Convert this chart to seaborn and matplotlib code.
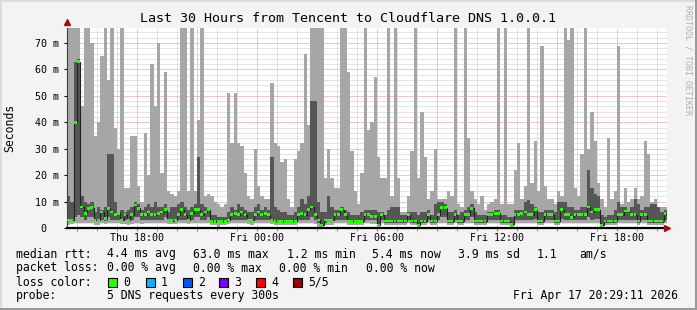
import numpy as np
import pandas as pd
import matplotlib
matplotlib.use("Agg")
import matplotlib.pyplot as plt
import matplotlib.dates as mdates
from matplotlib.ticker import MultipleLocator, FuncFormatter
from matplotlib.patches import Rectangle
import seaborn as sns

# ---------------- data (10-minute bins, ms) ----------------
start_time = "2026-04-16 14:29:11"
bin_minutes = 10

max_ms = [100,100,100,100,46,100,100,70,35,40,65,100,56,100,38,30,100,15,15,35,35,16,10,36,20,62,46,70,21,59,
          14,13,12,14,100,100,14,100,14,41,100,12,13,12,10,9,8,9,51,32,51,32,31,21,12,11,30,16,12,11,
          11,55,32,31,25,26,11,8,26,29,32,66,39,100,100,100,100,19,30,19,15,15,100,100,59,29,14,9,21,100,
          37,40,57,27,19,19,100,12,100,19,6,6,12,29,100,19,44,27,11,14,30,11,11,11,14,12,100,9,8,100,
          34,14,11,9,12,7,9,10,11,100,9,100,9,9,22,32,11,16,100,17,33,14,69,16,11,11,9,14,12,100,
          71,100,15,12,28,100,30,44,33,17,11,8,34,11,14,69,9,15,10,11,15,11,12,33,28,10,11,8,8,8]

dark_hi_ms = [12,10,63,64,12,10,9,10,6,8,7,8,28,28,10,6,7,6,7,8,10,9,7,8,9,8,10,8,8,9,
              6,8,8,9,10,8,7,8,9,27,9,8,7,5,5,4,4,4,6,8,7,9,8,7,6,6,8,9,7,8,
              7,27,8,7,6,6,5,5,6,8,11,9,12,48,48,10,6,6,12,8,7,7,8,7,6,5,5,5,6,7,
              7,7,7,6,6,5,7,8,8,8,5,5,6,6,6,5,6,6,7,5,9,10,10,9,6,6,7,5,6,7,
              8,9,6,5,5,5,6,6,7,7,5,5,4,4,7,7,7,10,10.5,9,8,6,6,7,7,7,6,10,10,10,
              8,8,7,7,8,8,22,15,13,12,5,4,5,5,7,10,8,8,7,8,11,9,7,8,8,9,9,8,6,7]

median_ms = [3,3,40,63,8,5.5,7.5,7.7,3,3,6,3.5,7.5,6,5,5.5,3,5,3,5,8.7,7.5,5,5,6,5,5,5.5,6,7,
             2.8,2.8,3,5,7,5,3,5.5,7,7,5,6,7,2.5,2.5,2.5,2.5,2.5,3,5,5.5,5,6,5,3,3,5,6,5,5.5,
             5,3,2.5,2.5,2.5,2.5,2.5,2.5,2.5,5,5.5,5,7,8,5,3,1.2,3,3,3,5,5,7,5,2.5,2.5,2.5,2.5,2.5,5,
             5,4.3,4.3,1.2,5,2.7,2.7,2.7,2.7,2.7,2.7,2.7,5,2.7,2.7,1.2,2.7,2.7,5,2.7,2.7,5,7.7,7.7,2.7,2.7,5,2.7,2.7,5,
             5,7.5,2.7,2.7,2.7,2.7,5,5,5.5,5.5,2.7,2.7,2.7,1.5,5,5,5.5,6,5,5,7,2.7,2.7,5,5,5,2.7,2.7,7,5,
             5,4,5,5,5,5,8,6,7,7,1.2,2.7,2.7,2.7,2.7,5,5,6.5,6.5,5,5,2.7,5,5,2.7,2.7,2.7,2.7,2.7,5.4]

dark_lo_ms = [2.5,2.5,4,5,4,3,4,4,2.5,2.5,3,2.5,4,3,3,3,2.5,3,2.5,3,4,4,3,3,3,3,3,3,3,4,
              2.5,2.5,2.5,3,3,3,2.5,3,4,4,3,3,4,2,2,2,2,2,2.5,3,3,3,3,3,2.5,2.5,3,3,3,3,
              3,2.5,2,2,2,2,2,2,2,3,3,3,3,4,3,2,1,2,2.5,2.5,3,3,3,3,2,2,2,2,2,3,
              3,3,3,1,3,2,2,2,2,2,2,2,3,2,2,1,2,2,3,2,2,3,4,4,2,2,3,2,2,3,
              3,4,2,2,2,2,3,3,3,3,2,2,2,1,3,3,3,3,3,3,3.5,2,2,3,3,3,2,2,3.5,3,
              3,3,3,3,3,3,4,3,3.5,3.5,1,2,2,2,2,3,3,3,3,3,3,2,3,3,2,2,2,2,2,3]

min_ms = [1,1.5,2,2,2,2,2,2,1,1,2,1.5,2,2,2,2,1.5,1.5,1,1.5,2,2,1.5,2,2,2,2,2,2,2,
          1.5,1.5,1.5,2,2,2,1.5,2,2,2,2,2,2,1,1,0.5,1,1,1.5,2,2,2,2,2,1.5,1,2,2,2,2,
          2,1.5,1,1,1,1,1,1,1,2,2,2,2,2,1.5,0.5,0.5,1,1,1,2,2,2,2,1,1,1,1,1,2,
          2,1.5,1.5,0.5,2,1,1,1,1,1,1,1,2,1,1,0.5,1,1,2,1,1,2,2,2,1,1,2,1,1,2,
          2,2,1,1,1,1,2,2,2,2,1,1,1,0.5,2,2,2,2,2,2,2,1,1,2,2,2,1,1,2,2,
          2,2,2,2,2,2,2,2,2,2,0.5,1,1,1,1,2,2,2,2,2,2,1,2,2,1,1,1,1,1,2]

title = "Last 30 Hours from Tencent to Cloudflare DNS 1.0.0.1"
loss_labels = ["0", "1", "2", "3", "4", "5/5"]
loss_colors = ["#26ff00", "#00b8ff", "#0059ff", "#7e00ff", "#ff0000", "#a10000"]

# ---------------- style ----------------
sns.set_theme(style="white")
plt.rcParams["font.family"] = ["DejaVu Sans Mono", "DejaVu Sans"]

W, H = 697, 310
BG = "#f3f3f3"
LIGHT = "#a6a6a6"
DARK = "#565656"

fig = plt.figure(figsize=(W / 100, H / 100), dpi=100, facecolor=BG)
ax = fig.add_axes([67 / W, 82 / H, 600 / W, 200 / H])
ax.set_facecolor("white")

t0 = pd.Timestamp(start_time)
n = len(median_ms)
times = t0 + pd.to_timedelta(np.arange(n) * bin_minutes, unit="min")
x = mdates.date2num(times.to_pydatetime())
w = bin_minutes / 1440.0

df = pd.DataFrame({"x": x, "mx": max_ms, "dk": dark_hi_ms, "med": median_ms,
                   "dl": dark_lo_ms, "mn": min_ms})

def ext(col):
    v = df[col].values
    return np.append(v, v[-1])

xs = np.append(df.x.values, df.x.values[-1] + w)

# smoke: outer (min..max) light, inner darker
ax.fill_between(xs, ext("mn"), ext("mx"), step="post", color=LIGHT, linewidth=0,
                antialiased=False, zorder=1)
ax.fill_between(xs, ext("dl"), ext("dk"), step="post", color=DARK, linewidth=0,
                antialiased=False, zorder=1.2)

# median step line
sns.lineplot(x=xs, y=ext("med"), ax=ax, drawstyle="steps-post", color="#202020",
             linewidth=0.8, estimator=None, sort=False, legend=False, zorder=3)
# median markers (loss 0 colour)
ax.bar(df.x, 1.0, bottom=df.med - 0.5, width=w * 0.85, align="edge",
       color=loss_colors[0], linewidth=0, zorder=3.2)

xmin = mdates.date2num(t0.to_pydatetime())
xmax = xmin + 30 / 24
ax.set_xlim(xmin, xmax)
ax.set_ylim(0, 75.7)

ax.yaxis.set_major_locator(MultipleLocator(10))
ax.yaxis.set_minor_locator(MultipleLocator(2))
ax.yaxis.set_major_formatter(FuncFormatter(lambda v, p: "0  " if abs(v) < 1e-9 else f"{int(round(v))} m"))

ax.xaxis.set_major_locator(mdates.HourLocator(byhour=range(0, 24, 3)))
ax.xaxis.set_minor_locator(mdates.HourLocator())
def xfmt(v, p):
    d = mdates.num2date(v)
    return d.strftime("%a %H:%M") if d.hour % 6 == 0 else ""
ax.xaxis.set_major_formatter(FuncFormatter(xfmt))

ax.set_axisbelow(True)
ax.grid(which="minor", color="#c8c8c8", linestyle=(0, (1, 1)), linewidth=0.72)
ax.grid(which="major", color="#f08a8a", linestyle=(0, (1, 1)), linewidth=0.72)

ax.tick_params(axis="y", which="major", length=2.5, width=0.8, color="black",
               labelsize=7.2, pad=3, left=True, direction="out")
ax.tick_params(axis="y", which="minor", length=0)
ax.tick_params(axis="x", which="major", length=2.5, width=0.8, color="#e06060",
               labelsize=7.2, pad=1.2, bottom=True, direction="out")
ax.tick_params(axis="x", which="minor", length=2, width=0.8, color="#999999",
               bottom=True, direction="out")
for lab in ax.get_xticklabels() + ax.get_yticklabels():
    lab.set_color("black")

for s in ["top", "right"]:
    ax.spines[s].set_visible(False)
ax.spines["bottom"].set_color("black")
ax.spines["bottom"].set_linewidth(1.6)
ax.spines["bottom"].set_zorder(4)
ax.spines["left"].set_color("#404040")
ax.spines["left"].set_linewidth(0.8)
ax.set_xlabel("")
ax.set_ylabel("")

# axis arrows
ax.plot([1.0], [0.0], marker=">", markersize=5, color="#a01010", transform=ax.transAxes,
        clip_on=False, zorder=5)
ax.plot([0.0], [1.03], marker="^", markersize=5, color="#a01010", transform=ax.transAxes,
        clip_on=False, zorder=5)

# ---------------- texts ----------------
def ftext(px, py, s, **kw):
    kw.setdefault("fontsize", 8.3)
    kw.setdefault("va", "center")
    kw.setdefault("ha", "left")
    fig.text(px / W, 1 - py / H, s, color=kw.pop("color", "black"), **kw)

ftext(W / 2, 19, title, ha="center", fontsize=9.6)
ftext(10, 128, "Seconds", ha="center", rotation=90, fontsize=8.3)
ftext(688, 60, "RRDTOOL / TOBI OETIKER", ha="center", rotation=270, fontsize=6,
      color="#b0b0b0")

row1 = [(16, "median rtt:"), (107, "4.4 ms avg"), (193, "63.0 ms max"), (287, "1.2 ms min"),
        (372, "5.4 ms now"), (458, "3.9 ms sd"), (537, "1.1"), (579, "am/s")]
row2 = [(16, "packet loss:"), (107, "0.00 % avg"), (193, "0.00 % max"), (279, "0.00 % min"),
        (366, "0.00 % now")]
for px, s in row1:
    ftext(px, 254, s)
for px, s in row2:
    ftext(px, 268, s)

ftext(16, 282, "loss color:")
box_x = [108, 146, 183, 219, 256, 293]
for bx, lab, col in zip(box_x, loss_labels, loss_colors):
    fig.add_artist(Rectangle((bx / W, 1 - 287 / H), 9 / W, 9 / H, transform=fig.transFigure,
                             facecolor=col, edgecolor="black", linewidth=0.8))
    ftext(bx + 15, 282, lab)

ftext(16, 296, "probe:")
ftext(107, 296, "5 DNS requests every 300s")
ftext(513, 296, "Fri Apr 17 20:29:11 2026")

# ---------------- 3D frame ----------------
fig.add_artist(Rectangle((0, 1 - 2 / H), 1, 2 / H, transform=fig.transFigure,
                         facecolor="#dcdcdc", edgecolor="none"))
fig.add_artist(Rectangle((0, 0), 2 / W, 1, transform=fig.transFigure,
                         facecolor="#dcdcdc", edgecolor="none"))
fig.add_artist(Rectangle((0, 0), 1, 2 / H, transform=fig.transFigure,
                         facecolor="#9a9a9a", edgecolor="none"))
fig.add_artist(Rectangle((1 - 2 / W, 0), 2 / W, 1, transform=fig.transFigure,
                         facecolor="#9a9a9a", edgecolor="none"))

fig.savefig("out.png", dpi=100, facecolor=BG)
